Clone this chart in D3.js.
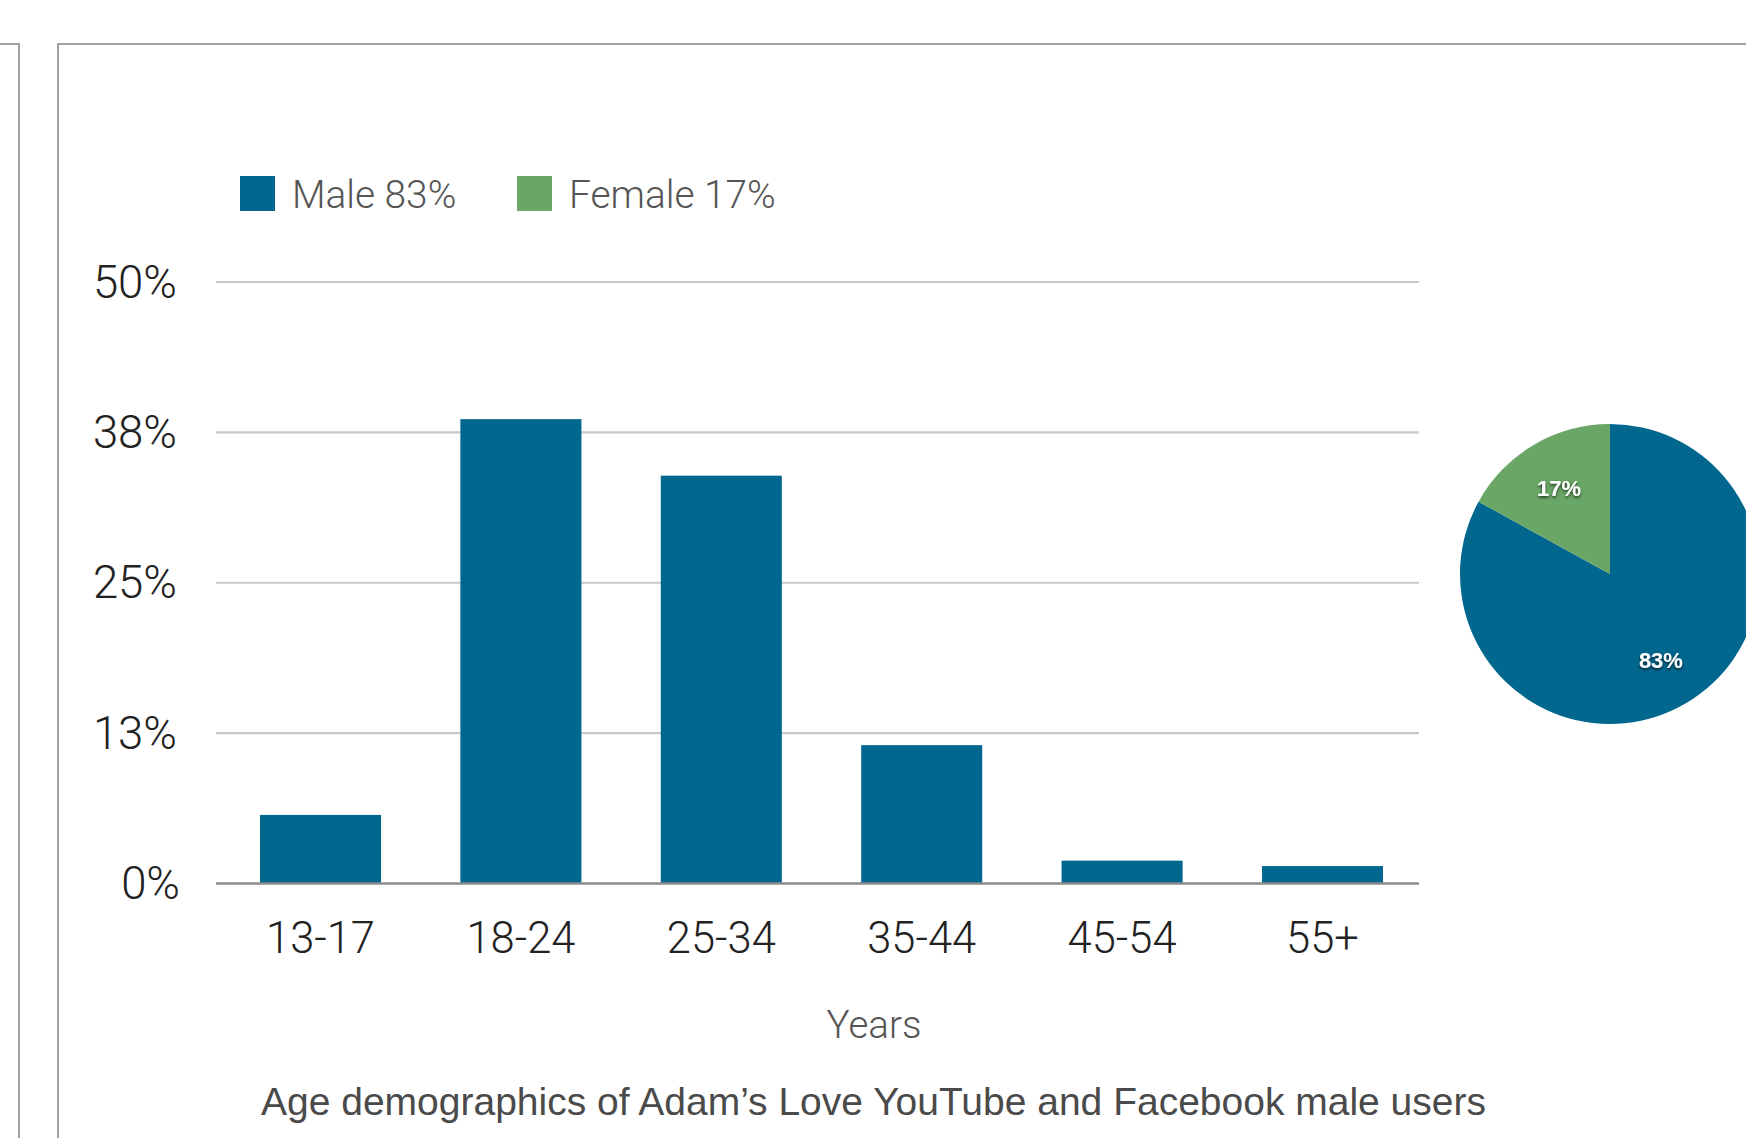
<!DOCTYPE html>
<html>
<head>
<meta charset="utf-8">
<script src="https://cdn.jsdelivr.net/npm/d3@7"></script>
<style>
  html, body { margin: 0; padding: 0; background: #ffffff; }
  svg { display: block; }
</style>
</head>
<body>
<svg id="chart" width="1746" height="1138"></svg>
<script>
// ---- Data ----
const categories = ["13-17", "18-24", "25-34", "35-44", "45-54", "55+"];
const maleShare = [5.7, 38.6, 33.9, 11.5, 1.9, 1.45];
const yTicks = [0, 12.5, 25, 37.5, 50];
const yTickLabels = ["0%", "13%", "25%", "38%", "50%"];
const pieLabels = ["Male", "Female"];
const pieValues = [83, 17];
const pieTexts = ["83%", "17%"];
const legendLabels = ["Male 83%", "Female 17%"];
const xAxisTitle = "Years";
const caption = "Age demographics of Adam\u2019s Love YouTube and Facebook male users";

// ---- Styles ----
const BLUE = "#02678f";
const GREEN = "#6aa766";
const LIGHT = "Roboto, 'Liberation Sans', sans-serif";

const svg = d3.select("#chart");

// Frames
svg.append("path")
  .attr("d", "M0,44 H19 V1138")
  .attr("fill", "none").attr("stroke", "#a2a2a2").attr("stroke-width", 2);
svg.append("path")
  .attr("d", "M58,1138 V44 H1746")
  .attr("fill", "none").attr("stroke", "#a2a2a2").attr("stroke-width", 2);

// Scales
const y = d3.scaleLinear().domain([0, 50]).range([883.5, 282]);
const x = d3.scaleBand().domain(categories).range([220.3, 1422.7])
  .paddingInner(0.396).paddingOuter(0.198);
const gridX0 = 216, gridX1 = 1419;

// Gridlines
svg.append("g").selectAll("line")
  .data(yTicks.filter(d => d > 0))
  .join("line")
  .attr("x1", gridX0).attr("x2", gridX1)
  .attr("y1", d => y(d)).attr("y2", d => y(d))
  .attr("stroke", "#c9c9cc").attr("stroke-width", 2.2);

// Y tick labels
svg.append("g").selectAll("text")
  .data(yTicks)
  .join("text")
  .attr("x", (d, i) => i === 0 ? 180 : 177)
  .attr("y", d => y(d) + 15.5)
  .attr("text-anchor", "end")
  .attr("font-family", LIGHT).attr("font-weight", 300)
  .attr("font-size", 45.5).attr("fill", "#222")
  .text((d, i) => yTickLabels[i]);

// Bars
svg.append("g").selectAll("rect")
  .data(categories)
  .join("rect")
  .attr("x", d => x(d))
  .attr("width", x.bandwidth())
  .attr("y", (d, i) => y(maleShare[i]))
  .attr("height", (d, i) => y(0) - y(maleShare[i]))
  .attr("fill", BLUE);

// Baseline axis
svg.append("line")
  .attr("x1", gridX0).attr("x2", gridX1)
  .attr("y1", y(0)).attr("y2", y(0))
  .attr("stroke", "#8c8c8e").attr("stroke-width", 2.6);

// X tick labels
svg.append("g").selectAll("text")
  .data(categories)
  .join("text")
  .attr("x", d => x(d) + x.bandwidth() / 2)
  .attr("y", 953)
  .attr("text-anchor", "middle")
  .attr("font-family", LIGHT).attr("font-weight", 300)
  .attr("font-size", 43.5).attr("fill", "#222")
  .text(d => d);

// X axis title
svg.append("text")
  .attr("x", 874).attr("y", 1038)
  .attr("text-anchor", "middle")
  .attr("font-family", LIGHT).attr("font-weight", 300)
  .attr("font-size", 38.5).attr("fill", "#555")
  .text(xAxisTitle);

// Caption
svg.append("text")
  .attr("x", 873.5).attr("y", 1115)
  .attr("text-anchor", "middle")
  .attr("font-family", "'Liberation Sans', Arial, sans-serif")
  .attr("font-size", 39).attr("fill", "#4a4a4a")
  .text(caption);

// Legend
const legendColors = [BLUE, GREEN];
const legendX = [240, 517];
const legend = svg.append("g");
legend.selectAll("rect")
  .data(legendLabels)
  .join("rect")
  .attr("x", (d, i) => legendX[i]).attr("y", 176)
  .attr("width", 35).attr("height", 35)
  .attr("fill", (d, i) => legendColors[i]);
legend.selectAll("text")
  .data(legendLabels)
  .join("text")
  .attr("x", (d, i) => legendX[i] + 52).attr("y", 208)
  .attr("font-family", LIGHT).attr("font-weight", 300)
  .attr("font-size", 38.8).attr("fill", "#555")
  .text(d => d);

// Pie
const defs = svg.append("defs");
const f = defs.append("filter").attr("id", "shadow")
  .attr("x", "-30%").attr("y", "-30%").attr("width", "160%").attr("height", "160%");
f.append("feDropShadow").attr("dx", 0).attr("dy", 1.5).attr("stdDeviation", 1.6)
  .attr("flood-color", "#000").attr("flood-opacity", 0.75);

const pieCx = 1610, pieCy = 574, pieR = 150;
const pie = d3.pie().sort(null).value(d => d);
const arcs = pie(pieValues);
const arc = d3.arc().innerRadius(0).outerRadius(pieR);
const labelArc = d3.arc().innerRadius(100).outerRadius(100);
const pieG = svg.append("g").attr("transform", `translate(${pieCx},${pieCy})`);
pieG.selectAll("path")
  .data(arcs)
  .join("path")
  .attr("d", arc)
  .attr("fill", (d, i) => legendColors[i]);
pieG.selectAll("text")
  .data(arcs)
  .join("text")
  .attr("transform", d => `translate(${labelArc.centroid(d)})`)
  .attr("dy", "0.36em")
  .attr("text-anchor", "middle")
  .attr("font-family", "'Liberation Sans', Arial, sans-serif")
  .attr("font-weight", 700)
  .attr("font-size", 22)
  .attr("fill", "#fff")
  .attr("filter", "url(#shadow)")
  .text((d, i) => pieTexts[i]);
</script>
</body>
</html>
